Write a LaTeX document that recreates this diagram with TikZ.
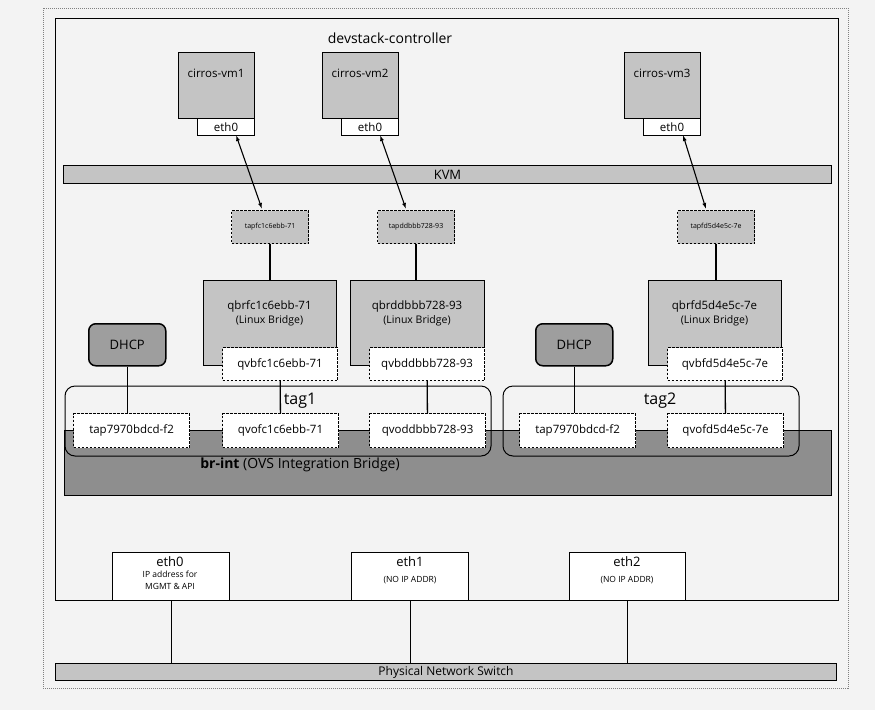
\documentclass[tikz,border=0pt]{standalone}
\usepackage{fontspec}
\setmainfont{Open Sans}
\usetikzlibrary{arrows.meta}
\definecolor{gbox}{HTML}{C4C4C4}
\definecolor{gdark}{HTML}{8E8E8E}
\definecolor{bg}{HTML}{F3F3F3}
\begin{document}
\begin{tikzpicture}[x=1pt,y=-1pt,
  box/.style={draw=black,line width=1pt,fill=gbox,inner sep=0pt},
  wbox/.style={draw=black,line width=1pt,fill=white,inner sep=0pt},
  dbox/.style={draw=black,line width=1.1pt,dash pattern=on 2.5pt off 1.5pt,inner sep=0pt},
  lnk/.style={line width=1.3pt},
  arr/.style={line width=1.1pt,{Latex[length=6pt,width=4pt]}-{Latex[length=6pt,width=4pt]}},
  lbl/.style={font=\fontsize{11.5}{12}\selectfont}]
\useasboundingbox (0,0) rectangle (875,710);
\fill[bg] (0,0) rectangle (875,710);
\draw[gray,dash pattern=on 1pt off 1pt] (43,8) rectangle (848,688);
\draw[line width=1pt,fill=bg] (55,18) rectangle (838,600);
\node[font=\fontsize{14}{15}\selectfont] (title) at (390,38) {devstack-controller};
% VMs
\foreach \n/\a/\b in {1/178/254,2/322/398,3/624/700}{
  \node[box,minimum width=\b-\a,minimum height=66,anchor=north west] (vm\n) at (\a,52) {};
}
\node[lbl] (v1l) at (216,73) {cirros-vm1};
\node[lbl] (v2l) at (360,73) {cirros-vm2};
\node[lbl] (v3l) at (662,73) {cirros-vm3};
\node[wbox,minimum width=57,minimum height=17,anchor=north west,lbl] (e1) at (197,118) {eth0};
\node[wbox,minimum width=57,minimum height=17,anchor=north west,lbl] (e2) at (341,118) {eth0};
\node[wbox,minimum width=57,minimum height=17,anchor=north west,lbl] (e3) at (643,118) {eth0};
% KVM
\node[box,minimum width=768,minimum height=18,anchor=north west,font=\fontsize{13}{13}\selectfont] (kvm) at (63,165) {KVM};
% taps
\foreach \n/\x/\t in {1/231/tapfc1c6ebb-71,2/377/tapddbbb728-93,3/677/tapfd5d4e5c-7e}{
  \node[dbox,fill=gbox,minimum width=77,minimum height=33,anchor=north west,font=\fontsize{7}{7}\selectfont] (tap\n) at (\x,210) {\t};
}
\coordinate (a1s) at (236,135); \coordinate (a1e) at (262,209);
\coordinate (a2s) at (380,135); \coordinate (a2e) at (406,209);
\coordinate (a3s) at (683,135); \coordinate (a3e) at (706,209);
\draw[arr] (a1s) -- (a1e);
\draw[arr] (a2s) -- (a2e);
\draw[arr] (a3s) -- (a3e);
% linux bridges
\foreach \n/\a/\b/\t in {1/203/336/qbrfc1c6ebb-71,2/350/484/qbrddbbb728-93,3/648/781/qbrfd5d4e5c-7e}{
  \node[box,minimum width=\b-\a,minimum height=85,anchor=north west] (qbr\n) at (\a,280) {};
  \node[lbl,align=center] at ({(\a+\b)/2},313) {\t\\[2pt]\fontsize{10.5}{11}\selectfont(Linux Bridge)};
}
\draw[lnk] (tap1) -- (tap1 |- qbr1.north);
\draw[lnk] (tap2) -- (tap2 |- qbr2.north);
\draw[lnk] (tap3) -- (tap3 |- qbr3.north);
\foreach \n/\a/\t in {1/222/qvbfc1c6ebb-71,2/369/qvbddbbb728-93,3/667/qvbfd5d4e5c-7e}{
  \node[dbox,fill=white,minimum width=115,minimum height=33,anchor=north west,lbl] (qvb\n) at (\a,347) {\t};
}
% DHCP
\node[box,rounded corners=7pt,line width=1.5pt,fill=gdark!70!gbox,minimum width=77,minimum height=42,anchor=north west,font=\fontsize{13}{13}\selectfont] (dhcp1) at (88,323) {DHCP};
\node[box,rounded corners=7pt,line width=1.5pt,fill=gdark!70!gbox,minimum width=77,minimum height=42,anchor=north west,font=\fontsize{13}{13}\selectfont] (dhcp2) at (535,323) {DHCP};
% br-int
\node[draw,line width=1pt,fill=gdark,minimum width=767,minimum height=65,anchor=north west,inner sep=0pt] (brint) at (64,430) {};
\node[font=\fontsize{14}{15}\selectfont] (brl) at (300,465) {\textbf{br-int} (OVS Integration Bridge)};
% tags
\draw[line width=1pt,rounded corners=10pt] (65,386) rectangle (491,456);
\draw[line width=1pt,rounded corners=10pt] (503,386) rectangle (799,456);
\node[font=\fontsize{16}{17}\selectfont] (t1) at (300,401) {tag1};
\node[font=\fontsize{16}{17}\selectfont] (t2) at (660,401) {tag2};
% ports
\foreach \n/\a/\t in {p1/73/tap7970bdcd-f2,p2/222/qvofc1c6ebb-71,p3/369/qvoddbbb728-93,p4/519/tap7970bdcd-f2,p5/667/qvofd5d4e5c-7e}{
  \node[dbox,fill=white,minimum width=116,minimum height=34,anchor=north west,lbl] (\n) at (\a,413) {\t};
}
\draw[lnk] (p1) -- (p2); \draw[lnk] (p2) -- (p3); \draw[lnk] (p3) -- (p4); \draw[lnk] (p4) -- (p5);
\draw[lnk] (dhcp1) -- (dhcp1 |- p1.north);
\draw[lnk] (dhcp2) -- (dhcp2 |- p4.north);
\draw[lnk] (qvb1) -- (p2);
\draw[lnk] (qvb2) -- (p3);
\draw[lnk] (qvb3) -- (p5);
% physical NICs
\node[wbox,minimum width=117,minimum height=48,anchor=north west] (n0) at (112,552) {};
\node[wbox,minimum width=117,minimum height=48,anchor=north west] (n1) at (351,552) {};
\node[wbox,minimum width=116,minimum height=48,anchor=north west] (n2) at (569,552) {};
\node[align=center,anchor=north,inner sep=0pt] (n0l) at (170,556) {\fontsize{13}{14}\selectfont eth0\\[-1pt]\fontsize{8.5}{9.5}\selectfont IP address for\\\fontsize{8.5}{9.5}\selectfont MGMT \& API};
\node[align=center,anchor=north,inner sep=0pt] (n1l) at (410,556) {\fontsize{13}{14}\selectfont eth1\\[4pt]\fontsize{8.5}{9.5}\selectfont (NO IP ADDR)};
\node[align=center,anchor=north,inner sep=0pt] (n2l) at (627,556) {\fontsize{13}{14}\selectfont eth2\\[4pt]\fontsize{8.5}{9.5}\selectfont (NO IP ADDR)};
\node[box,minimum width=781,minimum height=17,anchor=north west,font=\fontsize{12}{12}\selectfont] (sw) at (55,663) {Physical Network Switch};
\draw[line width=0.8pt] (n0) -- (n0 |- sw.north);
\draw[line width=0.8pt] (n1) -- (n1 |- sw.north);
\draw[line width=0.8pt] (n2) -- (n2 |- sw.north);
\end{tikzpicture}
\end{document}
